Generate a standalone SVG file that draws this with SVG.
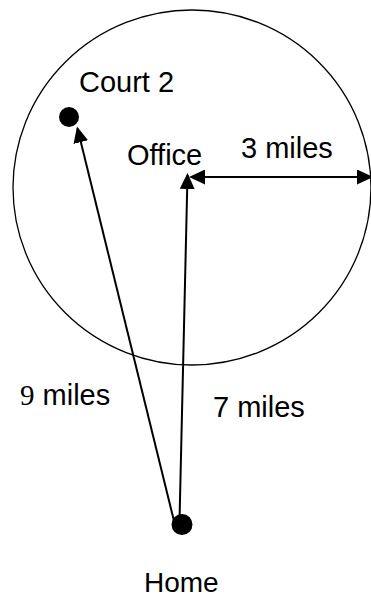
<svg xmlns="http://www.w3.org/2000/svg" width="371" height="598" viewBox="0 0 371 598">
<style>
  .lbl { font-family: "Liberation Sans", Arial, sans-serif; font-size: 29px; fill: #000; }
  .serif { font-family: "Liberation Serif", "Times New Roman", serif; }
  .conn { stroke: #000; stroke-width: 2; fill: none; }
  .dot { fill: #000; }
</style>
<defs>
  <marker id="ah" markerUnits="userSpaceOnUse" markerWidth="16" markerHeight="15" refX="14" refY="7.5" orient="auto-start-reverse" viewBox="0 0 16 15">
    <path d="M0,0 L16,7.5 L0,15 z" fill="#000"/>
  </marker>
</defs>
<rect width="371" height="598" fill="#fff"/>
<g id="radius-circle">
  <ellipse cx="192" cy="187.5" rx="179" ry="177.5" fill="none" stroke="#000" stroke-width="1.3"/>
</g>
<g id="connectors">
  <line class="conn" x1="174" y1="521" x2="77.5" y2="128.5" marker-end="url(#ah)"/>
  <line class="conn" x1="179.5" y1="521" x2="187.5" y2="175" marker-end="url(#ah)"/>
  <line class="conn" x1="191" y1="177" x2="371" y2="177" marker-start="url(#ah)" marker-end="url(#ah)"/>
</g>
<g id="court2">
  <circle class="dot" cx="69" cy="117" r="10"/>
  <text class="lbl" x="79" y="92">Court 2</text>
</g>
<g id="office">
  <text class="lbl" x="127" y="165">Office</text>
</g>
<g id="home">
  <circle class="dot" cx="182" cy="524.5" r="10.5"/>
  <text class="lbl" x="144" y="592" style="font-size:28px">Home</text>
</g>
<g id="labels">
  <text class="lbl" x="241" y="158">3 miles</text>
  <text class="lbl" x="20" y="405"><tspan class="serif">9</tspan> miles</text>
  <text class="lbl" x="213" y="417">7 miles</text>
</g>
</svg>
